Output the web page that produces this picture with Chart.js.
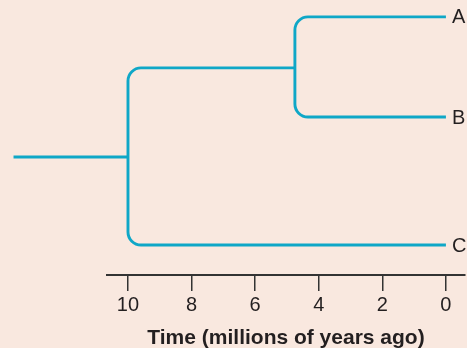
<!DOCTYPE html>
<html lang="en">
<head>
    <meta charset="UTF-8">
    <title>Time tree</title>
    <script src="https://cdn.jsdelivr.net/npm/chart.js"></script>
    <style>
        body { margin: 0; background: #f9e8df; }
        #wrap { width: 467px; height: 348px; }
    </style>
</head>
<body>
<div id="wrap"><canvas id="treeChart"></canvas></div>
<script>
    // tips and their vertical slots (arbitrary units, 0 = axis)
    var taxa = ["A", "B", "C"];
    var leafY = [9.56, 5.85, 1.11];
    var tipAge = 0;

    // internal nodes: ages in millions of years ago
    var rootAge = 10;
    var rootY = 4.37;
    var abAge = 4.75;
    var abY = 7.67;
    var stemAge = 13.6;

    var tickVals = [10, 8, 6, 4, 2, 0];

    var lineColor = "#0fa7c7";
    var textColor = "#231f20";
    var fontFamily = "'Liberation Sans', Arial, sans-serif";

    var branches = [
        [{x: stemAge, y: rootY}, {x: rootAge, y: rootY}],
        [{x: rootAge, y: rootY}, {x: rootAge, y: abY}, {x: abAge, y: abY}],
        [{x: rootAge, y: rootY}, {x: rootAge, y: leafY[2]}, {x: tipAge, y: leafY[2]}],
        [{x: abAge, y: abY}, {x: abAge, y: leafY[0]}, {x: tipAge, y: leafY[0]}],
        [{x: abAge, y: abY}, {x: abAge, y: leafY[1]}, {x: tipAge, y: leafY[1]}]
    ];

    // draws every branch through its parsed points, with rounded elbows
    var roundedBranches = {
        id: "roundedBranches",
        afterDatasetsDraw(chart) {
            var ctx = chart.ctx;
            ctx.save();
            ctx.strokeStyle = lineColor;
            ctx.lineWidth = 2.9;
            chart.data.datasets.forEach((ds, i) => {
                var pts = chart.getDatasetMeta(i).data;
                ctx.beginPath();
                ctx.moveTo(pts[0].x, pts[0].y);
                for (var k = 1; k < pts.length - 1; k++) {
                    ctx.arcTo(pts[k].x, pts[k].y, pts[k + 1].x, pts[k + 1].y, 13);
                }
                ctx.lineTo(pts[pts.length - 1].x, pts[pts.length - 1].y);
                ctx.stroke();
            });
            var xs = chart.scales.x, ys = chart.scales.y;
            ctx.fillStyle = textColor;
            ctx.font = "20px " + fontFamily;
            ctx.textBaseline = "middle";
            taxa.forEach((t, i) => {
                ctx.fillText(t, xs.getPixelForValue(tipAge) + 6, ys.getPixelForValue(leafY[i]) + 1);
            });
            ctx.restore();
        }
    };

    new Chart(document.getElementById("treeChart"), {
        type: "line",
        data: {
            datasets: branches.map(b => ({
                data: b,
                showLine: false,
                pointRadius: 0
            }))
        },
        options: {
            responsive: true,
            maintainAspectRatio: false,
            animation: false,
            layout: { padding: { left: 107, right: 2, top: 5, bottom: -1 } },
            plugins: { legend: { display: false }, tooltip: { enabled: false } },
            scales: {
                x: {
                    type: "linear",
                    min: -0.6,
                    max: 10.66,
                    reverse: true,
                    afterBuildTicks: (axis) => { axis.ticks = tickVals.map(v => ({value: v})); },
                    grid: { display: true, drawOnChartArea: false, drawTicks: true, tickLength: 16, color: "#333", lineWidth: 1.5 },
                    border: { display: true, color: "#333", width: 2 },
                    ticks: { color: textColor, padding: 2.5, maxRotation: 0, font: { size: 20, family: fontFamily } },
                    title: {
                        display: true,
                        text: "Time (millions of years ago)",
                        color: textColor,
                        padding: { top: 8, bottom: 0 },
                        font: { size: 21, weight: "bold", family: fontFamily, lineHeight: 1 }
                    }
                },
                y: { type: "linear", display: false, min: 0, max: 10 }
            }
        },
        plugins: [roundedBranches]
    });
</script>
</body>
</html>
